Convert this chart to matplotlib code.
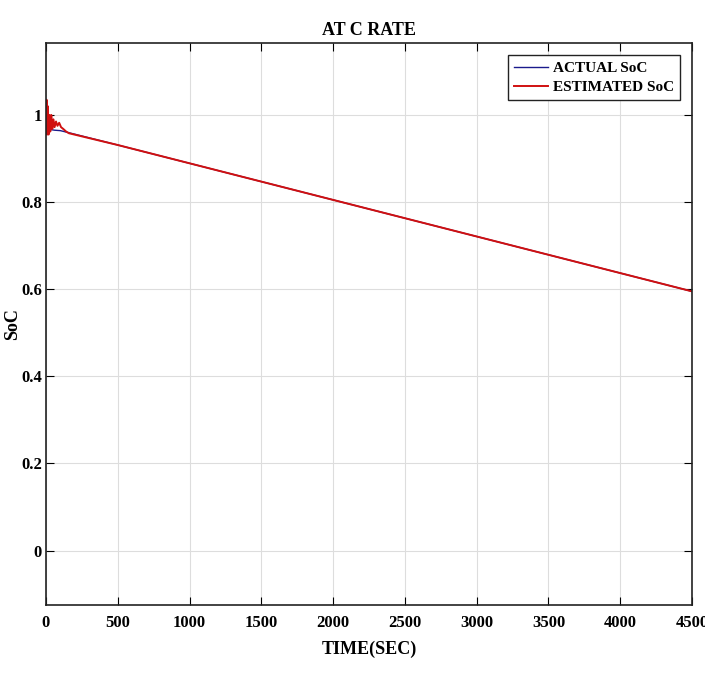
import numpy as np
import matplotlib.pyplot as plt

t_actual = [0, 20, 60, 100, 150, 500, 1000, 1500, 2000, 2500, 3000, 3500, 4000, 4500]
soc_actual = [0.968, 0.967, 0.965, 0.964, 0.960, 0.931, 0.889, 0.847, 0.805, 0.763, 0.721, 0.679, 0.637, 0.595]

t_est = [0, 4, 8, 13, 18, 24, 30, 37, 44, 52, 60, 70, 80, 92, 105, 120, 140, 160,
         500, 1000, 1500, 2000, 2500, 3000, 3500, 4000, 4500]
soc_est = [0.97, 1.035, 0.955, 1.02, 0.955, 1.0, 0.962, 1.0, 0.968, 0.99, 0.972, 0.985, 0.975, 0.982,
           0.972, 0.968, 0.962, 0.958,
           0.931, 0.889, 0.847, 0.805, 0.763, 0.721, 0.679, 0.637, 0.595]

xticks = [0, 500, 1000, 1500, 2000, 2500, 3000, 3500, 4000, 4500]
yticks = [0, 0.2, 0.4, 0.6, 0.8, 1]

plt.rcParams['font.family'] = ['Liberation Serif', 'DejaVu Serif']
plt.rcParams['font.weight'] = 'bold'

fig = plt.figure(figsize=(7.05, 6.73), dpi=100)
ax = fig.add_axes([0.0652, 0.101, 0.9164, 0.835])

ax.plot(t_actual, soc_actual, color='#1a1a8c', lw=1.0, label='ACTUAL SoC')
ax.plot(t_est, soc_est, color='#d01010', lw=1.4, label='ESTIMATED SoC')

ax.set_xlim(0, 4500)
ax.set_ylim(-0.125, 1.165)
ax.set_xticks(xticks)
ax.set_yticks(yticks)
ax.set_yticklabels(['0', '0.2', '0.4', '0.6', '0.8', '1'])
ax.tick_params(direction='in', top=True, right=True, labelsize=12, length=6)
ax.tick_params(axis='x', pad=7)
ax.tick_params(axis='y', pad=3)
ax.grid(True, color='#dddddd', lw=0.8)
for s in ax.spines.values():
    s.set_linewidth(1.2)
    s.set_color('#222222')

ax.set_title('AT C RATE', fontsize=13, fontweight='bold', pad=6)
ax.set_xlabel('TIME(SEC)', fontsize=13, fontweight='bold', labelpad=7)
ax.set_ylabel('SoC', fontsize=13, fontweight='bold', labelpad=0)

leg = ax.legend(loc='upper right', fontsize=11, fancybox=False, framealpha=1,
                edgecolor='#222222', handlelength=2.2, borderpad=0.4, labelspacing=0.35,
                handletextpad=0.3, borderaxespad=0.8)
leg.get_frame().set_linewidth(1.0)

fig.savefig('out.png', dpi=100)
